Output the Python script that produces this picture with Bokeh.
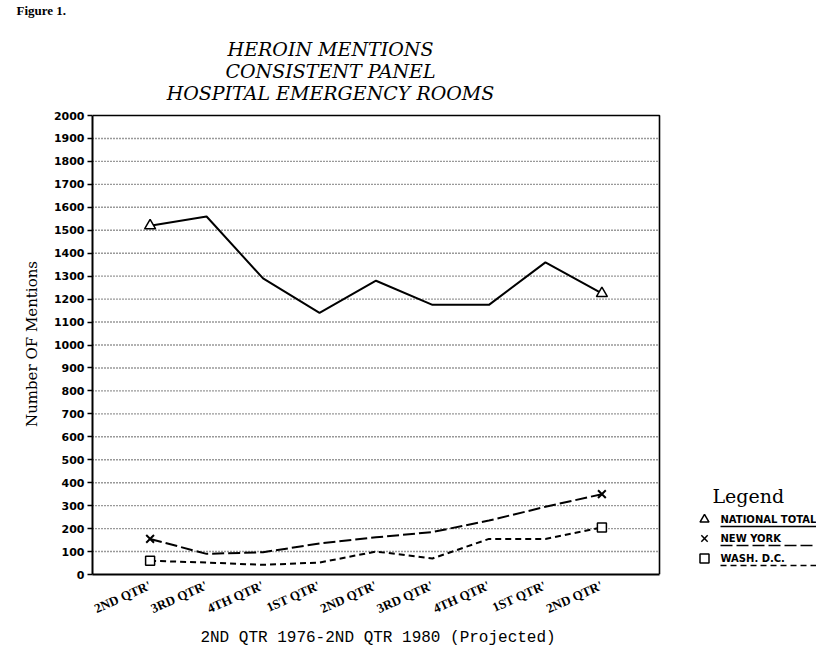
from bokeh.plotting import figure
from bokeh.models import Range1d, FixedTicker, Title
from bokeh.layouts import column, row
from bokeh.embed import file_html
from bokeh.resources import INLINE
from bokeh.core.properties import value

# ---------------- data ----------------
categories = ["2ND QTR'", "3RD QTR'", "4TH QTR'", "1ST QTR'", "2ND QTR'",
              "3RD QTR'", "4TH QTR'", "1ST QTR'", "2ND QTR'"]
national = [1520, 1560, 1290, 1140, 1280, 1175, 1175, 1360, 1225]
new_york = [155, 90, 97, 135, 162, 185, 235, 295, 350]
wash_dc = [60, 52, 42, 52, 100, 70, 155, 155, 205]
y_ticks = list(range(0, 2001, 100))
title_lines = ["HEROIN MENTIONS", "CONSISTENT PANEL", "HOSPITAL EMERGENCY ROOMS"]
legend_title = "Legend"
legend_names = ["NATIONAL TOTAL", "NEW YORK", "WASH. D.C."]
x_title = "2ND QTR 1976-2ND QTR 1980 (Projected)"
y_title = "Number OF Mentions"
figure_caption = "Figure 1."

xs = list(range(len(categories)))

# ---------------- geometry (page pixels) ----------------
PAGE_W = 816
HEAD_H = 105
BL, BT, BB = 92, 8, 40
BOX_W, BOX_H = 567, 459            # plotting box
FW = PAGE_W - BL                   # frame extends to the right edge (legend lives there)
FH = BOX_H + 2
X0 = -1.02
BOX_X1 = len(categories) - 1 + 1.02
PX_PER_X = BOX_W / (BOX_X1 - X0)
X_END = X0 + FW / PX_PER_X
Y0, Y_TOP = 0, 2000
PX_PER_Y = BOX_H / (Y_TOP - Y0)
Y_END = Y_TOP + 2 / PX_PER_Y

PAGE_FRAME_LEFT = 8 + BL
PAGE_ZERO = 8 + HEAD_H + BT + FH


def dx(px):
    return X0 + (px - PAGE_FRAME_LEFT) / PX_PER_X


def dy(py):
    return Y0 + (PAGE_ZERO - py) / PX_PER_Y


# ---------------- header (titles) ----------------
head = figure(width=PAGE_W, height=HEAD_H, x_range=Range1d(0, PAGE_W),
              y_range=Range1d(HEAD_H, 0), output_backend="svg",
              toolbar_location=None, min_border=0,
              x_axis_location=None, y_axis_location=None)
head.grid.visible = False
head.outline_line_color = None
head.background_fill_color = "white"
head.border_fill_color = "white"

head.text(x=[338 - 8] * len(title_lines), y=[56 - 8 + 22 * i for i in range(len(title_lines))],
          text=title_lines, text_align="center", text_baseline="middle",
          text_font=value("DejaVu Serif"), text_font_style="italic",
          text_font_size="19px", text_color="black")
head.text(x=[24 - 8], y=[18 - 8], text=[figure_caption], text_align="left",
          text_baseline="middle", text_font=value("Liberation Serif"),
          text_font_style="bold", text_font_size="13px", text_color="black")

# ---------------- main plot ----------------
p = figure(frame_width=FW, frame_height=FH,
           x_range=Range1d(X0, X_END), y_range=Range1d(Y0, Y_END),
           output_backend="svg", toolbar_location=None,
           min_border_left=BL, min_border_right=0,
           min_border_top=BT, min_border_bottom=BB)
p.background_fill_color = "white"
p.border_fill_color = "white"
p.outline_line_color = None
p.grid.visible = False

# dotted horizontal grid inside the box
grid_vals = y_ticks[1:-1]
p.segment(x0=[X0] * len(grid_vals), y0=grid_vals, x1=[BOX_X1] * len(grid_vals), y1=grid_vals,
          line_color="#333333", line_dash="1 2", line_width=1.4)
# top and right edges of the box
p.line([X0, BOX_X1, BOX_X1], [Y_TOP, Y_TOP, Y0], line_color="black", line_width=1.6)

p.yaxis.ticker = FixedTicker(ticks=y_ticks)
p.yaxis.bounds = (Y0, Y_TOP)
p.yaxis.axis_line_width = 2
p.yaxis.axis_line_color = "black"
p.yaxis.major_tick_in = 0
p.yaxis.major_tick_out = 5
p.yaxis.major_tick_line_width = 1.5
p.yaxis.minor_tick_line_color = None
p.yaxis.major_label_text_font = "DejaVu Sans"
p.yaxis.major_label_text_font_style = "bold"
p.yaxis.major_label_text_font_size = "11px"
p.yaxis.major_label_text_color = "black"
p.yaxis.major_label_standoff = 3
p.yaxis.axis_label = y_title
p.yaxis.axis_label_text_font = "DejaVu Serif"
p.yaxis.axis_label_text_font_style = "normal"
p.yaxis.axis_label_text_font_size = "15px"
p.yaxis.axis_label_text_color = "black"
p.yaxis.axis_label_standoff = 10

p.xaxis.ticker = FixedTicker(ticks=xs)
p.xaxis.bounds = (X0, BOX_X1)
p.xaxis.major_label_overrides = {i: c for i, c in zip(xs, categories)}
p.xaxis.major_label_orientation = 0.42
p.xaxis.major_tick_line_color = None
p.xaxis.minor_tick_line_color = None
p.xaxis.axis_line_width = 2
p.xaxis.axis_line_color = "black"
p.xaxis.major_label_text_font = "Liberation Serif"
p.xaxis.major_label_text_font_style = "bold"
p.xaxis.major_label_text_font_size = "13px"
p.xaxis.major_label_text_color = "black"
p.xaxis.major_label_standoff = 4

# x-axis title, centred under the plotting box (not the whole frame)
XT_SIZE = 16
xt_width = len(x_title) * 0.6 * XT_SIZE
p.add_layout(Title(text=x_title, align="left",
                   offset=(BOX_W / 2 - xt_width / 2) + 2,
                   text_font="Liberation Mono", text_font_style="normal",
                   text_font_size=f"{XT_SIZE}px", text_color="black",
                   standoff=2), "below")

# series
p.line(xs, national, line_color="black", line_width=2)
p.line(xs, new_york, line_color="black", line_width=2, line_dash="12 4")
p.line(xs, wash_dc, line_color="black", line_width=2, line_dash="6 4")

ends = [xs[0], xs[-1]]
p.scatter(ends, [national[0], national[-1]], marker="triangle", size=11,
          fill_color="white", line_color="black", line_width=1.5)
p.scatter(ends, [new_york[0], new_york[-1]], marker="x", size=11,
          line_color="black", line_width=2)
p.scatter(ends, [wash_dc[0], wash_dc[-1]], marker="square", size=9,
          fill_color="white", line_color="black", line_width=1.5)

# legend (outside the box, right side)
p.text(x=[dx(720)], y=[dy(503)], text=[legend_title], text_font=value("DejaVu Serif"),
       text_font_size="19px", text_baseline="middle", text_color="black")
markers = ["triangle", "x", "square"]
dashes = ["solid", "12 4", "6 4"]
entry_y = [527, 546, 566]
for name, mk, ds, ey in zip(legend_names, markers, dashes, entry_y):
    p.scatter([dx(712)], [dy(ey)], marker=mk, size=9, fill_color="white",
              line_color="black", line_width=1.5)
    p.text(x=[dx(728)], y=[dy(ey)], text=[name], text_font=value("DejaVu Sans"),
           text_font_style="bold", text_font_size="10px", text_baseline="middle",
           text_color="black")
    p.line([dx(728), X_END], [dy(ey + 7), dy(ey + 7)], line_color="black",
           line_width=1.5, line_dash=ds)

layout = column(head, row(p))
open("out.html", "w").write(file_html(layout, INLINE))
